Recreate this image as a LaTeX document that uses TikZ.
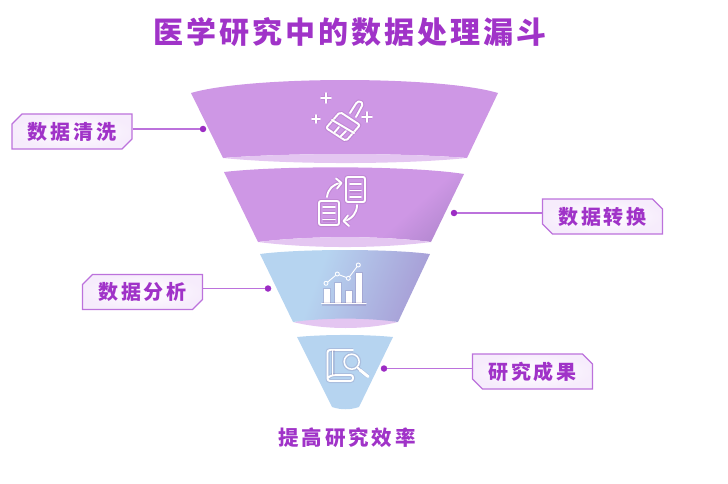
\documentclass[tikz,border=0pt]{standalone}
\usepackage{xcolor}
\usepackage{fontspec}
\usepackage{tikz}
\usetikzlibrary{positioning,calc,shapes.misc}
\newfontfamily\cjk[LetterSpace=10]{Noto Sans CJK SC}
\newfontfamily\cjkwide[LetterSpace=14]{Noto Sans CJK SC}
\definecolor{titlepurple}{HTML}{A033C8}
\definecolor{linkpurple}{HTML}{BC72DC}
\definecolor{dotpurple}{HTML}{9C2CC4}
\definecolor{segpurple}{HTML}{CE97E5}
\definecolor{segdark}{HTML}{AE85CC}
\definecolor{lenspurple}{HTML}{E4C6F1}
\definecolor{segblue}{HTML}{B6D4F0}
\definecolor{segindigo}{HTML}{A79DD6}
\definecolor{tagglow}{HTML}{F6ECFC}
\pgfdeclarehorizontalshading{segtwoshade}{100bp}{color(0bp)=(segpurple); color(66bp)=(segpurple); color(82bp)=(segdark); color(100bp)=(segdark)}
\pgfdeclarehorizontalshading{segthreeshade}{100bp}{color(0bp)=(segblue); color(40bp)=(segblue); color(76bp)=(segindigo); color(100bp)=(segindigo)}
\tikzset{
  tagbox/.style={chamfered rectangle, chamfered rectangle xsep=5pt, chamfered rectangle ysep=5pt,
    draw=linkpurple, line width=1.2pt, inner color=white, outer color=tagglow,
    minimum width=120pt, minimum height=35pt, inner sep=0pt,
    text=titlepurple, font=\cjkwide\bfseries\fontsize{20}{20}\selectfont},
  tagleft/.style={tagbox, chamfered rectangle corners={north west,south east}},
  tagright/.style={tagbox, chamfered rectangle corners={north east,south west}},
  dotnode/.style={circle, fill=dotpurple, minimum size=6.5pt, inner sep=0pt},
  link/.style={linkpurple, line width=1.3pt},
  iconline/.style={draw=white, line width=1.9pt, line join=round, line cap=round,
    preaction={draw=black!45!violet, draw opacity=0.10, line width=4pt}},
  iconfill/.style={fill=white, preaction={draw=black!45!violet, draw opacity=0.10, line width=2pt}}
}

\begin{document}
\begin{tikzpicture}[x=1pt, y=-1pt]
  \useasboundingbox (0,0) rectangle (728,484);

  % Title
  \node[text=titlepurple, font=\cjk\bfseries\fontsize{30}{30}\selectfont] (title) at (350,32) {医学研究中的数据处理漏斗};

  % Funnel segment 1
  \fill[segpurple] (191,93) .. controls (250,75.7) and (440,75.7) .. (498,93)
    -- (467,158) .. controls (400,152.7) and (290,152.7) .. (223,158) -- cycle;
  \fill[lenspurple] (223,158) .. controls (290,152.7) and (400,152.7) .. (467,158)
    .. controls (400,164.7) and (290,164.7) .. (223,158) -- cycle;

  % Funnel segment 2
  \shade[shading=segtwoshade, shading angle=-48] (224,172) .. controls (280,165.5) and (410,165.5) .. (464,174)
    -- (431,242) .. controls (380,235.5) and (310,235.5) .. (258,242) -- cycle;
  \fill[lenspurple] (258,242) .. controls (310,235.5) and (380,235.5) .. (431,242)
    .. controls (380,248.7) and (310,248.7) .. (258,242) -- cycle;

  % Funnel segment 3
  \fill[lenspurple] (293,322) .. controls (325,316) and (366,316) .. (398,322)
    .. controls (366,330) and (325,330) .. (293,322) -- cycle;
  \shade[shading=segthreeshade, shading angle=-20] (260,254) .. controls (300,248.7) and (390,248.7) .. (430,254)
    -- (398,322) .. controls (366,317.5) and (325,317.5) .. (293,322) -- cycle;

  % Funnel segment 4
  \fill[segblue] (297,337) .. controls (325,334.3) and (365,334.3) .. (393,337)
    -- (359,407) .. controls (350,410) and (341,410) .. (332,407) -- cycle;

  % Brush icon
  \draw[iconline] (316,115) -- (316,123) (312,119) -- (320,119);
  \draw[iconline] (326,93) -- (326,103) (321,98) -- (331,98);
  \draw[iconline] (367,112) -- (367,122) (362,117) -- (372,117);
  \draw[iconline, rounded corners=1.5pt] (350,113) -- (357,102) -- (360,101) -- (363,104) -- (356,117);
  \draw[iconline, rounded corners=2pt] (340,112) -- (360,125) -- (346,141) -- (326,128) -- cycle;
  \draw[iconline] (332,120) -- (354,133);
  \draw[iconline] (339,127) -- (334,133) (346,131) -- (340,137);

  % Swap icon
  \draw[iconline, rounded corners=2pt] (346,177) rectangle (365,202);
  \draw[iconline] (350,184) -- (361,184) (350,190.5) -- (361,190.5) (350,197) -- (361,197);
  \draw[iconline, rounded corners=2pt] (319,201) rectangle (339,225);
  \draw[iconline] (323,207) -- (335,207) (323,213) -- (335,213) (323,219.5) -- (335,219.5);
  \draw[iconline] (327,197) .. controls (328,189) and (333,184) .. (341,183);
  \draw[iconline] (336,178.5) -- (341.5,183) -- (337,188.5);
  \draw[iconline] (357,205) .. controls (357,213) and (352,219) .. (344,221);
  \draw[iconline] (349,226) -- (343.5,221) -- (348,215.5);

  % Chart icon
  \fill[iconfill] (324,289) rectangle (330,303);
  \fill[iconfill] (334.5,283) rectangle (341,303);
  \fill[iconfill] (345.5,291) rectangle (351.5,303);
  \fill[iconfill] (356,273) rectangle (362,303);
  \draw[iconline, line width=1.3pt] (321.7,303.5) -- (366,303.5);
  \draw[white, line width=0.9pt] (326,283.3) circle (2pt) (337.3,274) circle (2pt) (348.3,278.3) circle (2pt) (358.3,265) circle (2pt);
  \draw[white, line width=0.9pt] (327.7,282) -- (335.6,275.4) (339.2,274.8) -- (346.4,277.5) (349.5,276.7) -- (357.1,266.6);

  % Book icon
  \draw[iconline, rounded corners=2.5pt] (353,350) -- (327.5,350) -- (327.5,381) -- (353,381) -- (353,375) -- (332,375) -- (327.5,378);
  \draw[iconline] (332.5,350) -- (332.5,375);
  \draw[iconline, line width=1.5pt] (351.7,361.7) circle (7.5pt);
  \draw[iconline] (357.3,367.3) -- (360,370);
  \draw[iconline, line width=3pt] (360,370) -- (368,376.5);

  % Left and right tags
  \node[tagleft] (cleantag) at (72,131.5) {数据清洗};
  \node[tagright] (changetag) at (602.5,216.5) {数据转换};
  \node[tagleft] (analysetag) at (142.5,292) {数据分析};
  \node[tagright] (resulttag) at (532.5,371.5) {研究成果};

  % Dots on the funnel
  \node[dotnode] (cleandot) at (203,129) {};
  \node[dotnode] (changedot) at (454,213) {};
  \node[dotnode] (analysedot) at (268,288.5) {};
  \node[dotnode] (resultdot) at (384,368.5) {};

  \draw[link] (cleandot -| cleantag.east) -- (cleandot);
  \draw[link] (changedot -| changetag.west) -- (changedot);
  \draw[link] (analysedot -| analysetag.east) -- (analysedot);
  \draw[link] (resultdot -| resulttag.west) -- (resultdot);

  % Bottom text
  \node[text=titlepurple, font=\cjkwide\bfseries\fontsize{20.5}{20.5}\selectfont] (goal) at (347,438) {提高研究效率};
\end{tikzpicture}
\end{document}
